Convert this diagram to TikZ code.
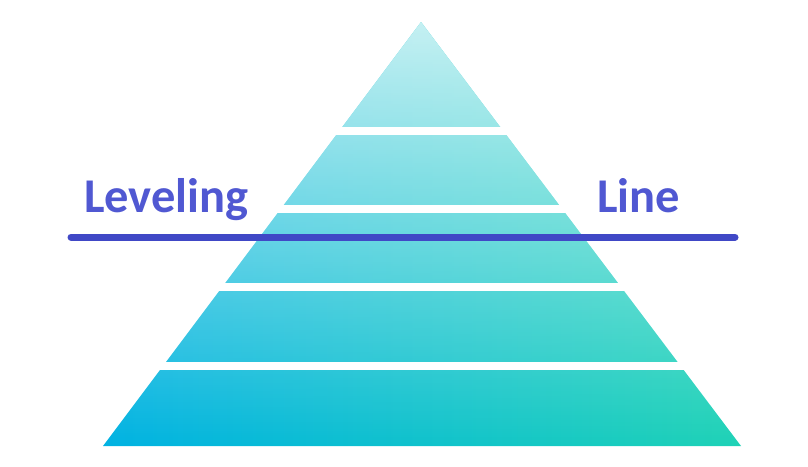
\documentclass[tikz,border=0pt]{standalone}
\usepackage{fontspec}
\setmainfont{Carlito}
\usetikzlibrary{fadings}
\definecolor{pyrleft}{HTML}{00B2E2}
\definecolor{pyrright}{HTML}{1ED2B6}
\definecolor{lvltext}{HTML}{5058D2}
\definecolor{lvlline}{HTML}{4048C6}
\tikzfading[name=topwhite, top color=transparent!24, bottom color=transparent!100]
\tikzset{
  gapband/.style={fill=white},
  lvllabel/.style={text=lvltext, font=\fontsize{48.5}{52}\selectfont\bfseries, inner sep=0pt, anchor=base west},
  lvlrule/.style={draw=lvlline, line width=7pt, line cap=round}
}
\begin{document}
\begin{tikzpicture}[x=1pt,y=-1pt]
\useasboundingbox (0,0) rectangle (808,466);
\coordinate (apex) at (421,22);
\coordinate (bl) at (103,446);
\coordinate (br) at (741,446);
\begin{scope}
  \clip (apex) -- (br) -- (bl) -- cycle;
  \shade[left color=pyrleft, right color=pyrright] (103,22) rectangle (741,446);
  \fill[white, path fading=topwhite] (103,22) rectangle (741,446);
\end{scope}
\foreach \ya/\yb in {127/135, 205/213, 283/291, 362/370}
  \fill[gapband] (90,\ya) rectangle (760,\yb);
\node[lvllabel] (lev) at (84,212) {Leveling};
\node[lvllabel] (lin) at (597,212) {Line};
\coordinate (ls) at (71,237);
\coordinate (le) at (735,237);
\draw[lvlrule] (ls) -- (le);
\end{tikzpicture}
\end{document}
